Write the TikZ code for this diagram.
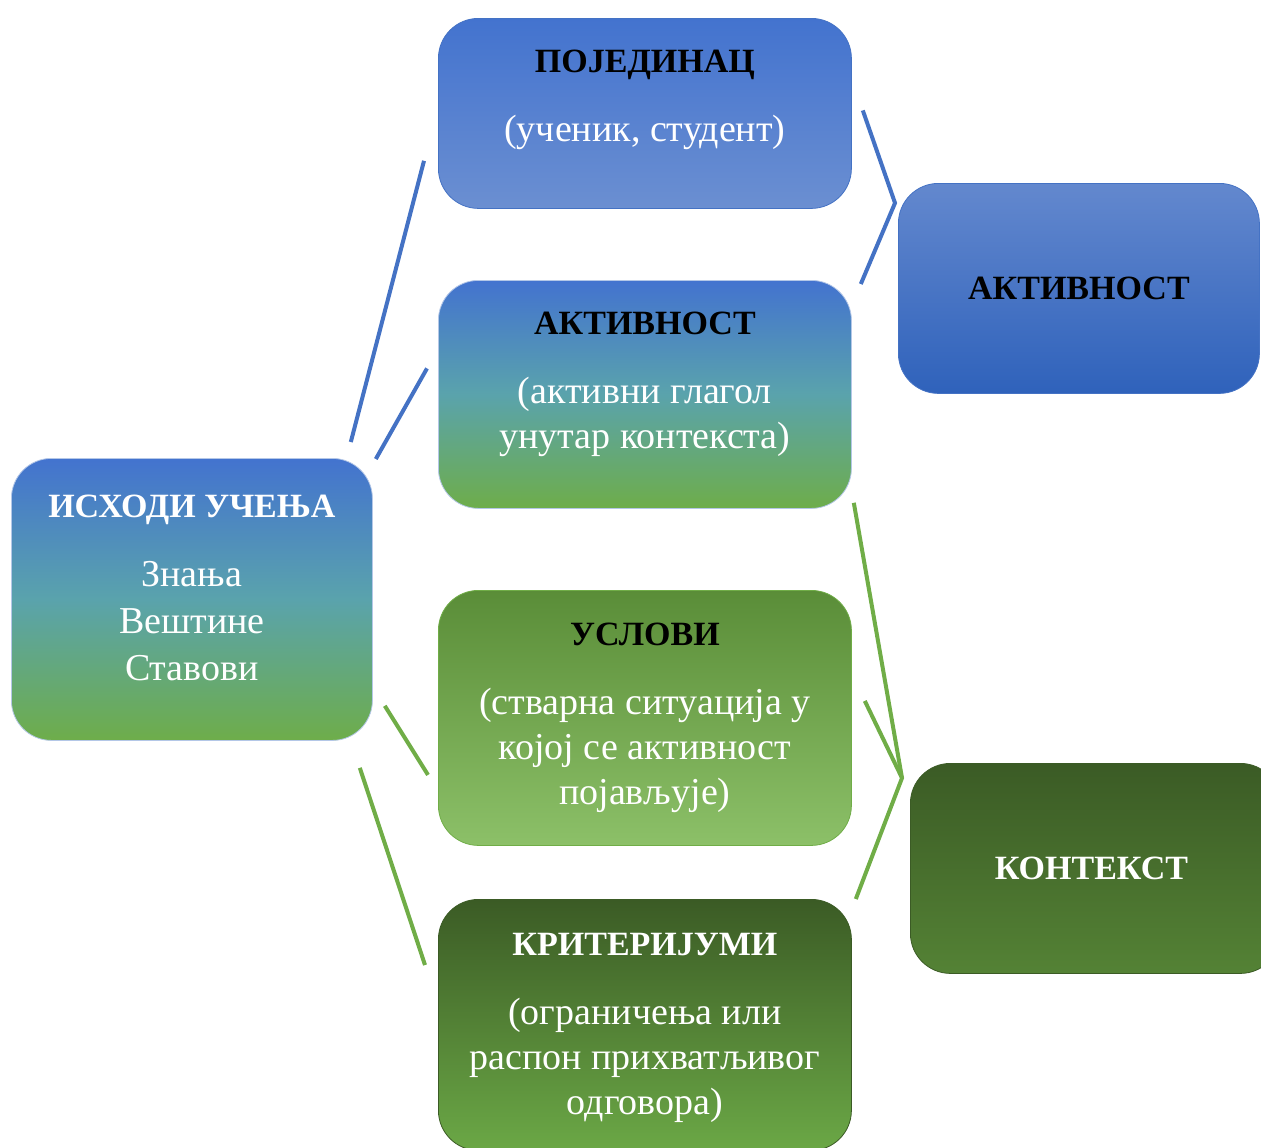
\documentclass[tikz,border=0pt]{standalone}
\usepackage{fontspec}
\setmainfont{Liberation Serif}
\usetikzlibrary{calc}

\definecolor{lnblue}{HTML}{4472C4}
\definecolor{lngreen}{HTML}{70AD47}
\definecolor{topblue}{HTML}{4373CF}
\definecolor{midteal}{HTML}{5AA3AC}
\definecolor{botgreen}{HTML}{6EAD4A}
\definecolor{lightblue}{HTML}{6B8FD1}
\definecolor{uslovtop}{HTML}{5A8D38}
\definecolor{uslovbot}{HTML}{8CC068}
\definecolor{darkgreen}{HTML}{3B5B25}
\definecolor{kritbot}{HTML}{6BA846}
\definecolor{akttop}{HTML}{6388CE}
\definecolor{aktbot}{HTML}{2F62BB}
\definecolor{kontbot}{HTML}{548235}

\newcommand{\boxhead}[1]{{\fontsize{17}{22.5}\selectfont\bfseries #1}}

\begin{document}
\begin{tikzpicture}[x=0.5pt,y=-0.5pt,
	bx/.style 2 args={rounded corners=20pt, align=center, anchor=north west,
		inner sep=0pt, text=white, minimum width=#1*0.5pt, minimum height=#2*0.5pt,
		font=\fontsize{19}{22.5}\selectfont},
	mixed/.style={top color=topblue, bottom color=botgreen, middle color=midteal, draw=lnblue!40, line width=0.4pt},
	bline/.style={draw=lnblue, line width=2pt},
	gline/.style={draw=lngreen, line width=2pt}]
	\useasboundingbox (0,0) rectangle (1261,1147);
	% left
	\node[bx={361}{282}, mixed, font=\fontsize{19}{23.5}\selectfont, text depth=12pt] (ishodi) at (11,458)
	{\boxhead{ИСХОДИ УЧЕЊА}\\[11pt] Знања\\ Вештине\\ Ставови};
	% middle column
	\node[bx={413}{190}, top color=topblue, bottom color=lightblue, draw=lnblue, line width=0.4pt, text depth=18pt] (pojedinac) at (438,18)
	{\textcolor{black}{\boxhead{ПОЈЕДИНАЦ}}\\[12pt] (ученик, студент)};
	\node[bx={413}{228}, mixed, text depth=14pt] (aktivnost) at (438,280)
	{\textcolor{black}{\boxhead{АКТИВНОСТ}}\\[12pt] (активни глагол\\ унутар контекста)};
	\node[bx={413}{255}, top color=uslovtop, bottom color=uslovbot, draw=lngreen, line width=0.4pt] (uslovi) at (438,590)
	{\textcolor{black}{\boxhead{УСЛОВИ}}\\[12pt] (стварна ситуација у\\ којој се активност\\ појављује)};
	\node[bx={413}{251}, top color=darkgreen, bottom color=kritbot, draw=darkgreen, line width=0.4pt, text depth=1.5pt] (kriterijumi) at (438,899)
	{\boxhead{КРИТЕРИЈУМИ}\\[12pt] (ограничења или\\ распон прихватљивог\\ одговора)};
	% right column
	\node[bx={361}{210}, top color=akttop, bottom color=aktbot, draw=lnblue, line width=0.4pt, text=black] (aktivnost2) at (898,183)
	{\boxhead{АКТИВНОСТ}};
	\node[bx={370}{210}, top color=darkgreen, bottom color=kontbot, draw=darkgreen, line width=0.4pt] (kontekst) at (910,763)
	{\hspace*{-4pt}\boxhead{КОНТЕКСТ}};
	% connectors on the left
	\draw[bline] ([shift={(-22,-16)}]ishodi.north east) -- ([shift={(-14,-48)}]pojedinac.south west);
	\draw[bline] ([shift={(3,1)}]ishodi.north east) -- ([shift={(-11,-26)}]aktivnost.west);
	\draw[gline] ([shift={(12,-35)}]ishodi.south east) -- ([shift={(-10,57)}]uslovi.west);
	\draw[gline] ([shift={(-13,27)}]ishodi.south east) -- ([shift={(-13,66)}]kriterijumi.north west);
	% brackets on the right
	\coordinate (tipb) at ([shift={(-3,20)}]aktivnost2.north west);
	\coordinate (tipg) at ([shift={(-8,15)}]kontekst.north west);
	\draw[bline] ([shift={(11,-3)}]pojedinac.east) -- (tipb) -- ([shift={(9,4)}]aktivnost.north east);
	\draw[gline] ([shift={(2,-6)}]aktivnost.south east) -- (tipg) -- ([shift={(4,0)}]kriterijumi.north east);
	\draw[gline] ([shift={(13,-17)}]uslovi.east) -- (tipg);
\end{tikzpicture}
\end{document}
